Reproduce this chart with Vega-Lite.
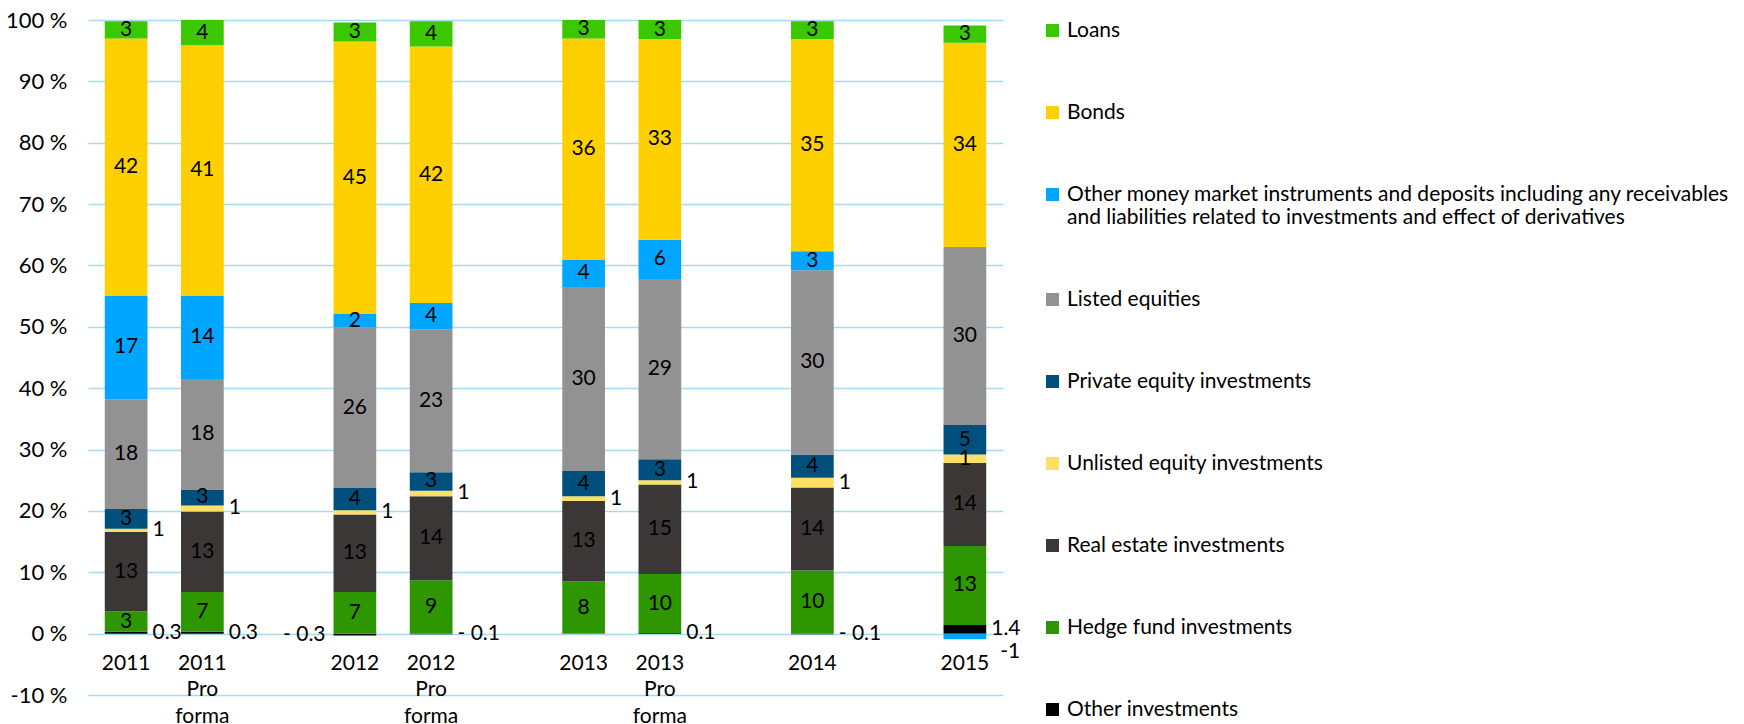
{
  "$schema": "https://vega.github.io/schema/vega-lite/v6.json",
  "width": 915,
  "height": 675,
  "autosize": {"type": "none"},
  "padding": {"left": 88, "top": 20, "right": 741, "bottom": 29},
  "background": "white",
  "config": {"view": {"stroke": null}, "font": "Lato", "text": {"font": "Lato"}},
  "data": {"values": [
    {"cat": "2011", "series": "Other investments", "ord": 1, "v": 0.3, "label": "0.3"},
    {"cat": "2011", "series": "Hedge fund investments", "ord": 2, "v": 3.3, "label": "3"},
    {"cat": "2011", "series": "Real estate investments", "ord": 3, "v": 13.0, "label": "13"},
    {"cat": "2011", "series": "Unlisted equity investments", "ord": 4, "v": 0.5, "label": "1"},
    {"cat": "2011", "series": "Private equity investments", "ord": 5, "v": 3.2, "label": "3"},
    {"cat": "2011", "series": "Listed equities", "ord": 6, "v": 17.9, "label": "18"},
    {"cat": "2011", "series": "Other money market instruments and deposits including any receivables and liabilities related to investments and effect of derivatives", "ord": 7, "v": 16.9, "label": "17"},
    {"cat": "2011", "series": "Bonds", "ord": 8, "v": 41.9, "label": "42"},
    {"cat": "2011", "series": "Loans", "ord": 9, "v": 2.8, "label": "3"},

    {"cat": "2011|Pro|forma", "series": "Other investments", "ord": 1, "v": 0.3, "label": "0.3"},
    {"cat": "2011|Pro|forma", "series": "Hedge fund investments", "ord": 2, "v": 6.5, "label": "7"},
    {"cat": "2011|Pro|forma", "series": "Real estate investments", "ord": 3, "v": 13.1, "label": "13"},
    {"cat": "2011|Pro|forma", "series": "Unlisted equity investments", "ord": 4, "v": 1.0, "label": "1"},
    {"cat": "2011|Pro|forma", "series": "Private equity investments", "ord": 5, "v": 2.6, "label": "3"},
    {"cat": "2011|Pro|forma", "series": "Listed equities", "ord": 6, "v": 18.0, "label": "18"},
    {"cat": "2011|Pro|forma", "series": "Other money market instruments and deposits including any receivables and liabilities related to investments and effect of derivatives", "ord": 7, "v": 13.6, "label": "14"},
    {"cat": "2011|Pro|forma", "series": "Bonds", "ord": 8, "v": 40.8, "label": "41"},
    {"cat": "2011|Pro|forma", "series": "Loans", "ord": 9, "v": 4.1, "label": "4"},

    {"cat": "2012", "series": "Other investments", "ord": 1, "v": -0.3, "label": "- 0.3"},
    {"cat": "2012", "series": "Hedge fund investments", "ord": 2, "v": 6.8, "label": "7"},
    {"cat": "2012", "series": "Real estate investments", "ord": 3, "v": 12.6, "label": "13"},
    {"cat": "2012", "series": "Unlisted equity investments", "ord": 4, "v": 0.7, "label": "1"},
    {"cat": "2012", "series": "Private equity investments", "ord": 5, "v": 3.7, "label": "4"},
    {"cat": "2012", "series": "Listed equities", "ord": 6, "v": 26.1, "label": "26"},
    {"cat": "2012", "series": "Other money market instruments and deposits including any receivables and liabilities related to investments and effect of derivatives", "ord": 7, "v": 2.2, "label": "2"},
    {"cat": "2012", "series": "Bonds", "ord": 8, "v": 44.4, "label": "45"},
    {"cat": "2012", "series": "Loans", "ord": 9, "v": 3.1, "label": "3"},

    {"cat": "2012|Pro|forma", "series": "Other investments", "ord": 1, "v": -0.1, "label": "- 0.1"},
    {"cat": "2012|Pro|forma", "series": "Hedge fund investments", "ord": 2, "v": 8.7, "label": "9"},
    {"cat": "2012|Pro|forma", "series": "Real estate investments", "ord": 3, "v": 13.7, "label": "14"},
    {"cat": "2012|Pro|forma", "series": "Unlisted equity investments", "ord": 4, "v": 0.9, "label": "1"},
    {"cat": "2012|Pro|forma", "series": "Private equity investments", "ord": 5, "v": 3.0, "label": "3"},
    {"cat": "2012|Pro|forma", "series": "Listed equities", "ord": 6, "v": 23.3, "label": "23"},
    {"cat": "2012|Pro|forma", "series": "Other money market instruments and deposits including any receivables and liabilities related to investments and effect of derivatives", "ord": 7, "v": 4.3, "label": "4"},
    {"cat": "2012|Pro|forma", "series": "Bonds", "ord": 8, "v": 41.8, "label": "42"},
    {"cat": "2012|Pro|forma", "series": "Loans", "ord": 9, "v": 4.1, "label": "4"},

    {"cat": "2013", "series": "Hedge fund investments", "ord": 2, "v": 8.5, "label": "8"},
    {"cat": "2013", "series": "Real estate investments", "ord": 3, "v": 13.1, "label": "13"},
    {"cat": "2013", "series": "Unlisted equity investments", "ord": 4, "v": 0.8, "label": "1"},
    {"cat": "2013", "series": "Private equity investments", "ord": 5, "v": 4.1, "label": "4"},
    {"cat": "2013", "series": "Listed equities", "ord": 6, "v": 30.0, "label": "30"},
    {"cat": "2013", "series": "Other money market instruments and deposits including any receivables and liabilities related to investments and effect of derivatives", "ord": 7, "v": 4.4, "label": "4"},
    {"cat": "2013", "series": "Bonds", "ord": 8, "v": 36.1, "label": "36"},
    {"cat": "2013", "series": "Loans", "ord": 9, "v": 3.0, "label": "3"},

    {"cat": "2013|Pro|forma", "series": "Other investments", "ord": 1, "v": 0.1, "label": "0.1"},
    {"cat": "2013|Pro|forma", "series": "Hedge fund investments", "ord": 2, "v": 9.6, "label": "10"},
    {"cat": "2013|Pro|forma", "series": "Real estate investments", "ord": 3, "v": 14.6, "label": "15"},
    {"cat": "2013|Pro|forma", "series": "Unlisted equity investments", "ord": 4, "v": 0.7, "label": "1"},
    {"cat": "2013|Pro|forma", "series": "Private equity investments", "ord": 5, "v": 3.4, "label": "3"},
    {"cat": "2013|Pro|forma", "series": "Listed equities", "ord": 6, "v": 29.4, "label": "29"},
    {"cat": "2013|Pro|forma", "series": "Other money market instruments and deposits including any receivables and liabilities related to investments and effect of derivatives", "ord": 7, "v": 6.4, "label": "6"},
    {"cat": "2013|Pro|forma", "series": "Bonds", "ord": 8, "v": 32.7, "label": "33"},
    {"cat": "2013|Pro|forma", "series": "Loans", "ord": 9, "v": 3.1, "label": "3"},

    {"cat": "2014", "series": "Other investments", "ord": 1, "v": -0.1, "label": "- 0.1"},
    {"cat": "2014", "series": "Hedge fund investments", "ord": 2, "v": 10.3, "label": "10"},
    {"cat": "2014", "series": "Real estate investments", "ord": 3, "v": 13.5, "label": "14"},
    {"cat": "2014", "series": "Unlisted equity investments", "ord": 4, "v": 1.6, "label": "1"},
    {"cat": "2014", "series": "Private equity investments", "ord": 5, "v": 3.8, "label": "4"},
    {"cat": "2014", "series": "Listed equities", "ord": 6, "v": 30.0, "label": "30"},
    {"cat": "2014", "series": "Other money market instruments and deposits including any receivables and liabilities related to investments and effect of derivatives", "ord": 7, "v": 3.1, "label": "3"},
    {"cat": "2014", "series": "Bonds", "ord": 8, "v": 34.6, "label": "35"},
    {"cat": "2014", "series": "Loans", "ord": 9, "v": 2.9, "label": "3"},

    {"cat": "2015", "series": "Other investments", "ord": 1, "v": 1.4, "label": "1.4"},
    {"cat": "2015", "series": "Hedge fund investments", "ord": 2, "v": 12.9, "label": "13"},
    {"cat": "2015", "series": "Real estate investments", "ord": 3, "v": 13.5, "label": "14"},
    {"cat": "2015", "series": "Unlisted equity investments", "ord": 4, "v": 1.4, "label": "1"},
    {"cat": "2015", "series": "Private equity investments", "ord": 5, "v": 4.8, "label": "5"},
    {"cat": "2015", "series": "Listed equities", "ord": 6, "v": 29.0, "label": "30"},
    {"cat": "2015", "series": "Other money market instruments and deposits including any receivables and liabilities related to investments and effect of derivatives", "ord": 7, "v": -0.9, "label": "-1"},
    {"cat": "2015", "series": "Bonds", "ord": 8, "v": 33.3, "label": "34"},
    {"cat": "2015", "series": "Loans", "ord": 9, "v": 2.8, "label": "3"}
  ]},
  "transform": [
    {"stack": "v", "groupby": ["cat"], "sort": [{"field": "ord", "order": "ascending"}], "as": ["v0", "v1"], "offset": "zero"},
    {"calculate": "(datum.v0 + datum.v1) / 2", "as": "vm"}
  ],
  "encoding": {
    "x": {
      "field": "cat", "type": "nominal", "title": null,
      "scale": {"domain": ["2011", "2011|Pro|forma", " ", "2012", "2012|Pro|forma", "  ", "2013", "2013|Pro|forma", "   ", "2014", "    ", "2015"], "paddingInner": 0.44, "paddingOuter": 0.22},
      "axis": {"labelAngle": 0, "domain": false, "ticks": false, "grid": false, "offset": -61, "labelPadding": 18, "labelExpr": "split(datum.value, '|')", "labelFontSize": 21, "labelFont": "Lato", "labelLineHeight": 26.5, "labelColor": "#000000", "labelBaseline": "top", "labelOverlap": false, "labelBound": false}
    }
  },
  "layer": [
    {
      "mark": {"type": "bar"},
      "encoding": {
        "y": {"field": "v0", "type": "quantitative", "title": null,
          "scale": {"domain": [-10, 100], "nice": false, "zero": false},
          "axis": {"values": [-10, 0, 10, 20, 30, 40, 50, 60, 70, 80, 90, 100], "labelExpr": "datum.value + ' %'", "domain": false, "ticks": false, "labelPadding": 21, "gridColor": "#A6D9F2", "gridWidth": 1.5, "labelFontSize": 22, "labelFont": "Lato", "labelColor": "#000000"}},
        "y2": {"field": "v1"},
        "color": {"field": "series", "type": "nominal", "title": null,
          "scale": {
            "domain": ["Loans", "Bonds", "Other money market instruments and deposits including any receivables and liabilities related to investments and effect of derivatives", "Listed equities", "Private equity investments", "Unlisted equity investments", "Real estate investments", "Hedge fund investments", "Other investments"],
            "range": ["#3CC800", "#FFD000", "#00A6FF", "#929292", "#00507D", "#FFE066", "#3C3737", "#2E9600", "#000000"]
          },
          "legend": {
            "orient": "right", "offset": 39, "padding": 0, "symbolType": "square", "symbolSize": 169, "symbolStrokeWidth": 0,
            "labelFontSize": 21, "labelFont": "Lato", "labelColor": "#000000", "labelLimit": 800, "labelOffset": 4, "rowPadding": 60,
            "labelExpr": "indexof(datum.label, ' and liabilities') > 0 ? [substring(datum.label, 0, indexof(datum.label, ' and liabilities')), substring(datum.label, indexof(datum.label, ' and liabilities') + 1)] : datum.label"
          }
        }
      }
    },
    {
      "transform": [{"filter": "datum.v > 0 && datum.series !== 'Other investments' && (datum.series !== 'Unlisted equity investments' || datum.cat === '2015')"}],
      "mark": {"type": "text", "fontSize": 21, "font": "Lato", "color": "#000000", "align": "center", "baseline": "middle"},
      "encoding": {"y": {"field": "vm", "type": "quantitative"}, "text": {"field": "label"}}
    },
    {
      "transform": [{"filter": "(datum.series === 'Unlisted equity investments' && datum.cat !== '2015') || (datum.series === 'Other investments' && datum.cat !== '2012')"}],
      "mark": {"type": "text", "fontSize": 21, "font": "Lato", "color": "#000000", "align": "left", "baseline": "middle", "dx": 5},
      "encoding": {"x": {"field": "cat", "type": "nominal", "bandPosition": 1}, "y": {"field": "vm", "type": "quantitative"}, "text": {"field": "label"}}
    },
    {
      "transform": [{"filter": "datum.v < 0 && datum.series !== 'Other investments'"}],
      "mark": {"type": "text", "fontSize": 21, "font": "Lato", "color": "#000000", "align": "left", "baseline": "middle", "dx": 14, "dy": 16},
      "encoding": {"x": {"field": "cat", "type": "nominal", "bandPosition": 1}, "y": {"field": "vm", "type": "quantitative"}, "text": {"field": "label"}}
    },
    {
      "transform": [{"filter": "datum.series === 'Other investments' && datum.cat === '2012'"}],
      "mark": {"type": "text", "fontSize": 21, "font": "Lato", "color": "#000000", "align": "right", "baseline": "middle", "dx": -8},
      "encoding": {"x": {"field": "cat", "type": "nominal", "bandPosition": 0}, "y": {"field": "vm", "type": "quantitative"}, "text": {"field": "label"}}
    }
  ]
}
